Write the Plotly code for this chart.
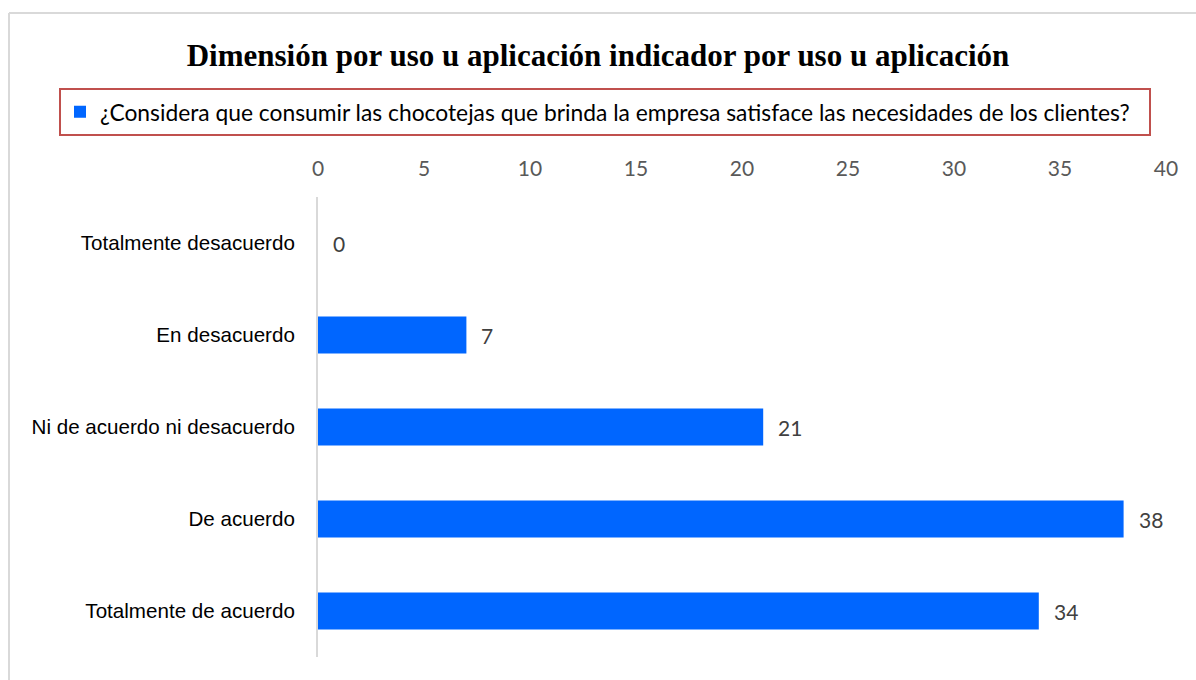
import plotly.graph_objects as go

categories = ["Totalmente desacuerdo", "En desacuerdo", "Ni de acuerdo ni desacuerdo",
              "De acuerdo", "Totalmente de acuerdo"]
values = [0, 7, 21, 38, 34]
series_name = "¿Considera que consumir las chocotejas que brinda la empresa satisface las necesidades de los clientes?"
title_text = "Dimensión por uso u aplicación indicador por uso u aplicación"
x_ticks = [0, 5, 10, 15, 20, 25, 30, 35, 40]

W, H = 1196, 680
L, R, T, B = 318, 30, 197, 23
pw, ph = W - L - R, H - T - B

def px_x(p):
    return (p - L) / pw

def px_y(p):
    return (H - B - p) / ph

fig = go.Figure()
fig.add_trace(go.Bar(
    y=categories, x=values, orientation="h", name=series_name,
    marker=dict(color="#0066FF", line=dict(width=0)),
    width=0.4, showlegend=True,
))

annotations = []
for c, v in zip(categories, values):
    annotations.append(dict(x=v, y=c, xref="x", yref="y", text=str(v), showarrow=False,
                            xanchor="left", xshift=13,
                            font=dict(family="Lato", size=21, color="#404040")))

shapes = [
    # outer border (left and top visible)
    dict(type="line", xref="paper", yref="paper", x0=px_x(9), x1=px_x(9), y0=px_y(700), y1=px_y(13),
         line=dict(color="#D9D9D9", width=2)),
    dict(type="line", xref="paper", yref="paper", x0=px_x(9), x1=px_x(1210), y0=px_y(13), y1=px_y(13),
         line=dict(color="#D9D9D9", width=2)),
    # legend box
    dict(type="rect", xref="paper", yref="paper", x0=px_x(60), x1=px_x(1150), y0=px_y(135), y1=px_y(89),
         line=dict(color="#C0504D", width=2), fillcolor="rgba(0,0,0,0)"),
]

fig.update_layout(
    width=W, height=H,
    margin=dict(l=L, r=R, t=T, b=B),
    paper_bgcolor="white", plot_bgcolor="white",
    title=dict(text="<b>" + title_text + "</b>", x=0.5, xref="container", xanchor="center",
               y=(H - 55) / H, yref="container", yanchor="middle",
               font=dict(family="Liberation Serif", size=31, color="#000000")),
    legend=dict(orientation="h", xref="container", yref="container",
                x=(100 - 40) / W, xanchor="left", y=(H - 112) / H, yanchor="middle",
                font=dict(family="Lato", size=22.8, color="#000000"),
                bgcolor="rgba(0,0,0,0)", borderwidth=0),
    xaxis=dict(side="top", range=[0, 40], tickvals=x_ticks, showgrid=False, zeroline=False,
               showline=False, ticks="", tickfont=dict(family="Lato", size=21, color="#595959"),
               ticklabelstandoff=16, fixedrange=True),
    yaxis=dict(autorange="reversed", showgrid=False, zeroline=False, showline=True,
               linecolor="#D9D9D9", linewidth=2, ticks="",
               tickfont=dict(family="Liberation Sans", size=20.6, color="#000000"),
               ticklabelstandoff=17),
    annotations=annotations,
    shapes=shapes,
    bargap=0.6,
)

fig.write_html("out.html")
